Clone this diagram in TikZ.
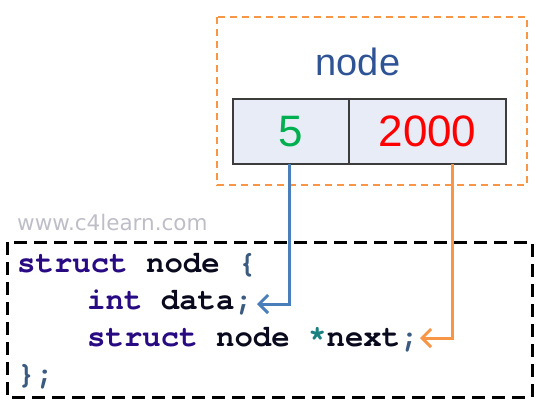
\documentclass[tikz,border=0pt]{standalone}
\usepackage{fontspec}
\setmainfont{Liberation Sans}
\setmonofont{texgyrecursor}[Extension=.otf,UprightFont=*-regular,BoldFont=*-bold]
\newfontfamily\wmfont{DejaVu Sans}
\usepackage{xcolor}
\usepackage{tikz}
\usetikzlibrary{arrows,arrows.meta,calc,positioning}
\definecolor{frameorange}{RGB}{247,150,70}
\definecolor{titleblue}{RGB}{47,84,150}
\definecolor{cellfill}{RGB}{232,236,246}
\definecolor{cellline}{RGB}{60,60,60}
\definecolor{valgreen}{RGB}{0,176,80}
\definecolor{ptrred}{RGB}{255,0,0}
\definecolor{wmgray}{RGB}{190,190,200}
\definecolor{kw}{RGB}{40,10,130}
\definecolor{ident}{RGB}{10,10,30}
\definecolor{punct}{RGB}{58,90,128}
\definecolor{star}{RGB}{26,128,128}
\definecolor{linkblue}{RGB}{74,126,187}
\definecolor{linkorange}{RGB}{247,150,70}

\begin{document}
\begin{tikzpicture}[x=1pt,y=-1pt,
        cell/.style={draw=cellline,fill=cellfill,line width=1.2pt,minimum height=65pt,inner sep=0pt,outer sep=0pt,font=\fontsize{44}{44}\selectfont},
        code/.style={anchor=base west,inner sep=0pt,text=ident,font=\fontsize{30.7}{37}\selectfont\ttfamily\bfseries},
        link/.style={-{Straight Barb[length=9pt,width=18pt,line width=3pt]},line width=3pt}]
        \useasboundingbox (0,0) rectangle (542,407);
        \draw[frameorange,line width=2pt,dash pattern=on 7pt off 5pt] (217,17) rectangle (527,185);
        \draw[line width=3pt,dash pattern=on 13pt off 7pt] (7,242) rectangle (532,397);
        \node[text=titleblue,font=\fontsize{38}{38}\selectfont] (title) at (358,62) {node};
        \node[cell,minimum width=116pt,text=valgreen] (val) at (291,131.5) {5};
        \node[cell,minimum width=157pt,text=ptrred,right=0pt of val] (ptr) {2000};
        \node[code,text=wmgray,font=\wmfont\fontsize{21.5}{22}\selectfont] (site) at (17,230) {www.c4learn.com};
        \node[code] (l1) at (17,272) {\textcolor{kw}{struct} node \textcolor{punct}{\{}};
        \node[code] (l2) at (87,309) {\textcolor{kw}{int} data\textcolor{punct}{;}};
        \node[code] (l3) at (87,346) {\textcolor{kw}{struct} node \textcolor{star}{*}next\textcolor{punct}{;}};
        \node[code] (l4) at (17,383) {\textcolor{punct}{\};}};
        \coordinate (dataend) at (257,304);
        \coordinate (nextend) at (420,338);
        \draw[link,linkblue] ([xshift=-2pt]val.south) |- (dataend);
        \draw[link,linkorange] ([xshift=24.5pt]ptr.south) |- (nextend);
    \end{tikzpicture}
\end{document}
